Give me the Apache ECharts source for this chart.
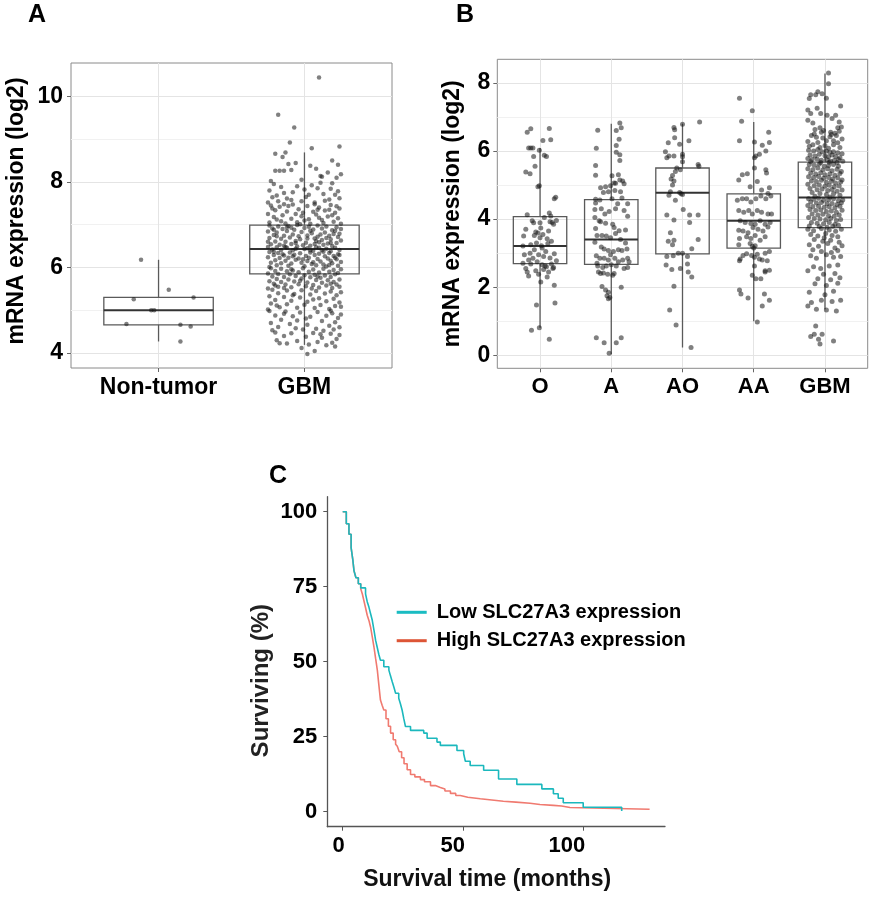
<!DOCTYPE html>
<html>
<head>
<meta charset="utf-8">
<script src="https://cdn.jsdelivr.net/npm/echarts@6/dist/echarts.min.js"></script>
<style>html,body{margin:0;padding:0;background:#fff}#c{width:873px;height:897px}</style>
</head>
<body>
<div id="c"></div>
<script>
// ---------- Panel A ----------
const catsA = ['Non-tumor', 'GBM'];
const boxA = [[4.27, 4.66, 5.00, 5.30, 6.18], [4.19, 5.85, 6.43, 6.99, 8.69]];
const ticksA = [4, 6, 8, 10];
const minorA = [5, 7, 9];
// jittered points: flat [offset, value, offset, value, ...]
const ptsA_non = [-.12,6.18, .07,5.48, -.17,5.26, .24,5.30, -.05,5.00, -.03,5.00, -.22,4.68, .15,4.66, .22,4.62, .15,4.27];
const ptsA_gbm = [
-.18,9.57, .10,10.44, -.07,9.27, -.10,8.92, .05,8.79, .24,8.83, -.20,8.66, -.13,8.69,
.19,8.50, .23,8.40, -.11,8.42, .04,8.38, -.20,8.26, -.17,8.26, -.14,8.26, -.09,8.28, .11,8.14, .12,8.12, -.02,8.05, .22,8.10, -.23,8.02, -.06,8.44, .16,8.22, -.15,8.58, .08,8.31, .25,8.18,
-.21,7.95, -.16,7.88, .05,7.92, .19,7.97, .23,7.78, -.24,7.80, -.08,7.76, .13,7.72, -.19,7.68, .01,7.65, .09,7.85, -.12,7.61, .17,7.59, -.02,7.55, .24,7.62, -.25,7.52, .07,7.52, -.05,7.90, .21,7.70, -.14,7.74, .14,7.56, -.09,7.58, .00,7.82, -.18,7.55, .11,7.98, .03,7.70, -.22,7.64, .18,7.84,
-.23,7.45, -.17,7.42, -.08,7.47, .02,7.44, .10,7.40, .18,7.46, .24,7.38, -.20,7.34, -.12,7.31, -.04,7.36, .06,7.30, .14,7.33, .21,7.28, -.25,7.25, -.15,7.22, -.02,7.20, .08,7.24, .16,7.19, .23,7.15, -.19,7.12, -.09,7.14, .00,7.10, .12,7.11, .20,7.07, -.24,7.05, -.13,7.03, -.05,7.06, .04,7.02, .10,7.16, .25,7.02, -.21,7.18, -.01,7.28, .17,7.35, -.11,7.44, .07,7.48, -.16,7.08, .19,7.22, -.06,7.25, .13,7.04, -.22,7.38, .03,7.13, .22,7.43, -.14,7.48, .09,7.35, -.03,7.01,
-.24,6.98, -.18,6.96, -.11,6.97, -.05,6.99, .03,6.95, .09,6.98, .15,6.96, .22,6.94, -.22,6.91, -.15,6.90, -.07,6.88, .00,6.92, .06,6.89, .12,6.91, .19,6.87, .25,6.90, -.25,6.84, -.19,6.82, -.12,6.85, -.02,6.83, .05,6.80, .14,6.82, .20,6.78, -.21,6.76, -.14,6.74, -.08,6.77, .02,6.75, .09,6.72, .17,6.74, .23,6.71, -.24,6.69, -.16,6.67, -.10,6.70, -.03,6.66, .07,6.68, .12,6.64, .18,6.66, .25,6.63, -.20,6.61, -.13,6.60, -.06,6.62, .01,6.58, .10,6.59, .16,6.56, .22,6.57, -.23,6.54, -.17,6.53, -.09,6.55, -.01,6.52, .04,6.51, .13,6.53, .19,6.50, -.14,6.51, .08,6.62, -.04,6.73, .21,6.86, -.09,6.93, .15,6.69, -.19,6.73, .04,6.86, -.25,6.60, .24,6.79, .11,6.77, -.06,6.57, .18,6.58, -.12,6.94, .02,6.68, -.21,6.88, .07,6.55,
-.25,6.48, -.19,6.47, -.12,6.46, -.05,6.49, .02,6.45, .08,6.47, .15,6.44, .21,6.46, -.22,6.42, -.16,6.41, -.08,6.40, .00,6.43, .06,6.39, .12,6.40, .18,6.38, .24,6.41, -.24,6.36, -.18,6.34, -.10,6.35, -.03,6.33, .04,6.35, .10,6.32, .17,6.34, .23,6.31, -.21,6.29, -.14,6.28, -.07,6.30, .01,6.27, .07,6.29, .14,6.26, .20,6.27, -.25,6.24, -.17,6.22, -.11,6.23, -.04,6.21, .03,6.23, .09,6.20, .16,6.21, .22,6.19, -.20,6.17, -.13,6.16, -.06,6.18, .02,6.15, .11,6.14, .18,6.16, .25,6.13, -.23,6.11, -.16,6.10, -.09,6.09, -.02,6.11, .05,6.08, .13,6.07, .19,6.10, -.19,6.05, -.11,6.04, .00,6.03, .08,6.05, .15,6.02, .23,6.04, -.24,6.01, -.06,6.44, .13,6.37, -.15,6.31, .21,6.23, -.01,6.19, .06,6.12, -.21,6.37, .10,6.46, -.08,6.26, .17,6.06, -.13,6.48, .24,6.29, .04,6.40,
-.23,5.98, -.16,5.97, -.09,5.96, -.01,5.98, .06,5.95, .13,5.97, .20,5.94, .25,5.96, -.20,5.92, -.12,5.91, -.04,5.89, .03,5.90, .10,5.88, .17,5.90, .23,5.87, -.25,5.86, -.18,5.85, -.10,5.84, .00,5.82, .07,5.83, .14,5.81, .21,5.84, -.22,5.79, -.14,5.78, -.06,5.80, .04,5.77, .11,5.76, .18,5.78, -.19,5.73, -.11,5.72, -.02,5.74, .08,5.71, .16,5.70, .24,5.72, -.24,5.68, -.16,5.66, -.07,5.67, .02,5.65, .12,5.64, .20,5.66, -.21,5.62, -.13,5.60, -.04,5.61, .06,5.59, .15,5.58, .22,5.60, -.18,5.55, -.09,5.54, .01,5.56, .10,5.53, .19,5.52, -.25,5.51, -.14,5.52, .05,5.51, .24,5.55, -.08,5.93, .18,5.62, -.03,5.69, .09,5.79, -.20,5.58,
-.22,5.48, -.12,5.46, -.02,5.47, .08,5.45, .18,5.44, .25,5.42, -.18,5.40, -.07,5.38, .04,5.37, .14,5.39, .22,5.35, -.24,5.33, -.14,5.31, -.03,5.30, .10,5.28, .20,5.27, -.20,5.24, -.09,5.22, .02,5.20, .15,5.21, .24,5.18, -.23,5.16, -.12,5.14, .00,5.13, .11,5.12, .21,5.10, -.17,5.07, -.05,5.06, .07,5.05, .17,5.03, -.25,5.02, .25,5.08, -.08,5.35, .06,5.25, -.19,5.11,
-.24,4.98, -.13,4.97, -.03,4.95, .09,4.96, .19,4.93, .25,4.90, -.20,4.88, -.08,4.86, .04,4.85, .15,4.87, .23,4.82, -.16,4.78, -.05,4.76, .12,4.75, .21,4.72, -.23,4.70, -.10,4.68, .02,4.66, .17,4.64, -.18,4.61, -.06,4.58, .08,4.57, .20,4.55, -.22,4.53, .13,4.52, .24,4.60, -.14,4.92, .01,4.81, .18,4.99, -.01,4.55,
-.20,4.48, -.09,4.46, .06,4.47, .18,4.45, .24,4.42, -.14,4.40, .01,4.38, .12,4.36, .22,4.33, -.19,4.30, -.05,4.28, .09,4.26, .19,4.24, -.12,4.22, .03,4.20, .15,4.18, -.17,4.23, .11,4.44, -.02,4.12, .21,4.15, .07,4.05, .02,3.98
];

// ---------- Panel B ----------
const catsB = ['O', 'A', 'AO', 'AA', 'GBM'];
const boxB = [[0.81, 2.69, 3.21, 4.07, 6.09], [0.03, 2.67, 3.40, 4.57, 6.80], [0.23, 2.98, 4.77, 5.50, 6.80], [1.00, 3.15, 3.95, 4.74, 6.85], [1.35, 3.75, 4.63, 5.67, 8.27]];
const ticksB = [0, 2, 4, 6, 8];
const minorB = [1, 3, 5, 7];
const ptsB_O = [
-.18,6.55, -.13,6.65, .13,6.66, .04,6.31, .15,6.33, -.16,6.09, -.13,6.09, -.10,6.09, -.01,6.02, -.09,5.84, .06,5.87, .09,5.84, -.07,5.55, -.20,5.38, -.14,5.33, -.03,4.95, -.01,4.98, .20,4.60, .22,4.64, -.18,4.13, -.09,3.89, .00,3.89, .13,4.18, .15,4.09, .14,3.92, .17,3.90, .23,3.96, .19,3.85, .01,3.74, -.03,3.59, -.23,3.50, -.08,3.52, .04,3.55, .10,3.42, -.13,3.25, -.05,3.30, .02,3.22, .11,3.28, -.24,3.21, -.22,2.95, -.14,3.00, -.10,2.85, -.02,2.95, .05,2.90, .14,2.86, .20,2.98, -.24,2.70, -.13,2.68, .03,2.66, .07,2.62, .16,2.68, .19,2.58, -.18,2.45, -.16,2.33, -.06,2.48, -.02,2.38, .05,2.52, .09,2.60, .18,2.55, .01,2.15, .20,2.06, -.05,1.48, .21,1.54, -.12,0.74, -.01,0.81, .13,0.47,
-.20,3.70, -.08,3.10, .08,3.05, -.16,2.80, .12,3.65, .00,3.45, -.11,3.95, .06,4.05, -.04,2.75, .10,2.30, -.20,2.55, .16,3.35, .23,2.78, -.06,3.62, .03,3.15, .12,2.45
];
const ptsB_A = [
-.19,6.61, .12,6.82, .14,6.68, .07,6.60, .11,6.34, -.21,6.08, .07,6.16, .07,5.96, .12,5.89, .12,5.72, -.22,5.57, -.22,5.29, .10,5.30, .12,5.15, .16,5.12, .01,5.27, .04,5.06, -.08,4.95, -.15,4.92, -.01,4.98, .06,5.05, .18,5.04, -.11,4.78, -.04,4.80, .05,4.84, .13,4.80, -.22,4.58, -.16,4.56, -.22,4.47, .01,4.60, .15,4.62, .23,4.45, -.14,4.30, -.03,4.22, .06,4.30, .18,4.25, .23,4.08, -.23,4.28, -.23,4.05, -.15,3.92, -.08,3.88, .04,3.75, .11,3.66, .20,3.68, -.22,3.72, -.20,3.52, -.13,3.52, -.07,3.50, -.01,3.45, .06,3.58, -.23,3.32, -.14,3.18, -.10,3.12, -.04,3.08, .03,3.05, .10,3.10, .15,3.08, .22,3.12, -.21,2.92, -.16,2.85, -.10,2.85, -.04,2.80, .05,2.85, .10,2.75, .16,2.80, .23,2.85, .25,2.75, -.19,2.62, -.12,2.58, -.07,2.62, .00,2.66, .07,2.62, .18,2.55, .23,2.58, -.18,2.45, -.15,2.40, -.11,2.42, -.05,2.38, .02,2.35, .04,2.40, -.13,2.02, -.08,1.92, -.04,1.85, -.06,1.75, -.04,1.66, -.02,1.70, .14,2.00, -.21,0.52, -.10,0.37, .07,0.37, .14,0.52, -.03,0.06,
-.17,3.95, .09,4.45, -.09,4.15, .13,3.40, -.20,2.70, .02,3.85, .20,3.30, -.01,2.95
];
const ptsB_AO = [
.24,6.85, .00,6.78, -.12,6.69, -.11,6.62, .09,6.30, -.20,6.24, -.11,6.39, -.04,6.20, -.24,5.98, -.19,5.85, -.12,5.85, -.22,5.80, .00,5.90, .00,5.83, .00,5.68, .22,5.60, .23,5.55, -.08,5.50, -.03,5.45, -.10,5.40, -.14,5.28, -.16,5.18, -.12,5.12, -.14,5.00, -.04,4.78, -.02,4.74, .00,4.72, -.17,4.80, -.19,4.70, -.10,4.55, .01,4.28, .10,4.12, .22,4.12, -.22,4.12, -.12,3.97, .10,3.90, -.17,3.60, -.20,3.35, -.14,3.25, -.12,3.38, .22,3.40, .13,3.13, -.22,2.90, -.13,2.92, -.23,2.65, -.15,2.52, -.03,2.55, .07,2.90, .07,2.68, .08,2.45, .13,2.30, -.06,3.00, .00,3.00, -.12,2.03, -.18,1.33, -.09,0.89, .12,0.23
];
const ptsB_AA = [
-.20,7.55, -.02,7.18, -.17,6.87, -.20,6.30, .01,6.26, .21,6.55, .22,6.25, .12,6.17, .17,6.00, .03,5.85, .01,5.80, .08,5.90, .17,5.45, .18,5.35, .01,5.50, -.21,5.15, -.16,5.30, -.09,5.33, -.05,4.95, .05,5.10, .11,4.85, .22,4.92, .20,4.75, -.23,4.55, -.16,4.60, -.10,4.60, -.04,4.50, .03,4.60, .10,4.68, .17,4.60, .24,4.68, -.21,4.25, -.14,4.20, -.07,4.25, -.02,4.15, .05,4.25, .11,4.20, .20,4.15, .25,4.15, -.19,3.95, -.12,3.90, -.04,3.87, .02,3.85, .09,3.95, .16,3.85, .23,3.90, -.21,3.67, -.15,3.65, -.08,3.60, -.01,3.75, .06,3.70, .13,3.65, .20,3.77, -.20,3.43, -.10,3.48, -.04,3.43, .02,3.52, .09,3.38, .16,3.48, -.21,3.25, -.05,3.28, .02,3.22, .00,3.15, -.02,3.20, .16,3.00, .22,3.05, -.19,2.83, -.15,2.93, -.10,2.98, -.03,2.93, .01,2.88, .05,2.97, .08,2.83, .12,2.80, .19,2.78, -.20,2.78, .01,2.62, .16,2.48, .22,2.50, -.02,2.35, .03,2.25, .10,2.25, .16,2.45, -.20,1.92, -.18,1.80, -.08,1.68, .12,1.45, .15,1.80, .22,1.62, .05,0.98
];
const ptsB_GBM = [
.05,8.29, .05,7.97, -.20,7.65, -.13,7.65, -.04,7.68, -.22,7.54, .02,7.55, -.10,7.74,
-.24,7.20, -.20,7.10, -.06,7.10, .03,7.05, .15,7.05, -.24,6.90, -.17,6.82, .20,6.85, .23,6.70, -.14,6.63, -.07,6.68, -.02,6.60, .08,6.55, .14,6.52, .18,6.68, .10,6.95, -.11,7.25, .22,7.32,
-.22,6.14, -.17,6.18, -.07,6.10, .00,6.16, .05,6.08, .12,6.30, .12,6.18, .21,6.10, -.19,6.45, -.12,6.40, -.03,6.38, .07,6.42, .16,6.45, .24,6.35, -.24,6.28, -.10,6.25, .02,6.30, .18,6.24, -.15,6.50, .09,6.48, -.05,6.55, .20,6.58,
-.23,6.02, -.16,6.00, -.10,6.04, -.04,5.98, .02,6.00, .07,5.96, .12,5.98, .18,5.95, .24,5.92, -.21,5.88, -.14,5.85, -.08,5.90, .00,5.86, .05,5.83, .10,5.88, .15,5.84, .21,5.80, -.24,5.78, -.18,5.75, -.11,5.76, -.05,5.73, .03,5.74, .08,5.70, .13,5.72, .19,5.75, .25,5.70, -.20,5.68, -.06,5.66, .06,5.67, .17,5.66,
-.22,5.60, -.15,5.58, -.08,5.62, -.01,5.55, .05,5.57, .12,5.60, .19,5.55, -.24,5.48, -.17,5.45, -.10,5.50, -.03,5.44, .04,5.48, .10,5.42, .17,5.46, .23,5.40, -.20,5.35, -.13,5.32, -.06,5.36, .00,5.30, .07,5.33, .14,5.29, .21,5.34, -.23,5.24, -.16,5.22, -.09,5.25, -.02,5.20, .05,5.22, .11,5.18, .18,5.21, .24,5.15, -.19,5.12, -.12,5.10, -.05,5.14, .02,5.08, .09,5.11, .15,5.06, .22,5.09, -.24,5.02, -.15,4.98, -.08,5.00, .00,4.96, .06,4.99, .13,4.95, .20,4.97, -.21,4.90, -.11,4.86, -.04,4.88, .04,4.84, .10,4.87, .17,4.82, .24,4.85, -.18,4.78, -.07,4.75, .02,4.72, .12,4.74, .21,4.70, -.14,4.67, .07,4.65,
-.23,4.60, -.16,4.58, -.09,4.61, -.02,4.55, .05,4.57, .12,4.60, .19,4.54, .25,4.56, -.20,4.50, -.12,4.47, -.05,4.49, .03,4.45, .10,4.46, .17,4.43, .23,4.48, -.24,4.40, -.17,4.37, -.09,4.38, -.01,4.35, .06,4.36, .14,4.33, .21,4.38, -.21,4.28, -.13,4.25, -.06,4.27, .02,4.22, .09,4.24, .16,4.20, .24,4.26, -.18,4.15, -.10,4.12, -.03,4.14, .05,4.10, .13,4.08, .20,4.12, -.23,4.05, -.15,4.02, -.07,4.00, .01,3.98, .08,4.02, .16,3.96, .22,3.99, -.19,3.90, -.11,3.88, -.02,3.86, .06,3.90, .14,3.84, -.22,3.80, -.08,3.78, .03,3.76, .11,3.79, .19,3.82,
-.24,3.70, -.16,3.66, -.05,3.72, .06,3.68, .15,3.64, .23,3.70, -.20,3.55, -.10,3.50, .01,3.58, .10,3.52, .18,3.48, -.15,3.40, -.03,3.35, .08,3.38, .20,3.32, -.22,3.25, -.09,3.20, .04,3.28, .14,3.15, .24,3.22, -.17,3.10, -.05,3.05, .09,3.02, .18,3.08, -.01,3.45,
-.20,2.92, -.12,2.85, .02,2.95, .12,2.88, .22,2.90, -.16,2.60, -.06,2.55, .06,2.62, .18,2.65, -.24,2.48, -.02,2.38, .14,2.40, -.10,2.25, .08,2.22, .21,2.28,
-.14,2.10, .02,2.05, .18,2.12, -.22,1.85, .00,1.78, .12,1.88, -.19,1.55, -.05,1.62, .10,1.58, .22,1.62, -.24,1.45, -.12,1.35, .02,1.33, .16,1.30,
-.13,0.86, -.15,0.62, -.09,0.47, -.07,0.33, -.04,0.62, .12,0.42, -.20,0.55
];

// ---------- Panel C (Kaplan-Meier) ----------
const seriesNamesC = ['Low SLC27A3 expression', 'High SLC27A3 expression'];
const ticksCx = [0, 50, 100];
const ticksCy = [0, 25, 50, 75, 100];
const lowTime = [0,1.5,2.6,3.5,4.2,4.7,5.5,6.5,7.5,9.5,10.2,10.9,11.6,12.3,13,13.7,14.3,15,15.7,17.1,19.2,19.9,20.6,21.3,22,23.3,24,24.7,25.4,26.1,28.2,33.7,35.1,39.2,40.6,47.5,50.3,51,53,58.6,64.8,72.4,82.8,87.6,89.6,91.7,100,116];
const lowSurv = [100,96,92.5,88,84,80.3,78,76,74.6,72.6,70,68.2,66,63.8,60.5,57.1,55,52.5,50.5,48.3,47.2,45.2,43.3,41.5,39.5,37.8,36,33.9,31,28.4,27.1,26.2,24.5,23.2,22.1,20.4,19.3,16.8,15.4,13.8,10.9,9.1,7.6,6.0,4.5,3.0,1.5,0.2];
const highTime = [0,1.5,2.6,3.5,4.2,4.7,5.5,6.5,7.5,8.2,8.8,9.5,10.2,11,11.6,12.3,13,13.7,14.4,15,15.7,16.4,17.1,18,19,19.9,21,22,22.7,23.5,24.5,25.5,26.8,28.2,30,32.3,34,36.5,38.5,40.6,42.5,44.8,47,48.9,52,57.2,62,66.8,72,77.9,82,87.6,91,94.5,127.6];
const highSurv = [100,96,92.5,88,84,80.3,78,76,74.3,72.5,70.4,68,65.5,63.5,61.5,58.3,54.9,51,47.2,42.5,37.2,35.5,33.9,31,28.5,26.2,24,22.5,21.8,20,18,16,14,12.4,11.6,10.7,10,8.7,8.1,7.6,6.9,6.1,5.4,4.8,4.3,3.9,3.5,3.2,2.8,2.4,2.1,1.9,1.4,0.8,0.8];

// ---------- helpers ----------
const FONT = 'Liberation Sans, Arial, sans-serif';
function jitter(flat, center) {
  const out = [];
  for (let i = 0; i < flat.length; i += 2) out.push([center + flat[i], flat[i + 1]]);
  return out;
}
function boxData(stats) { return stats.map((s, i) => [i + 1].concat(s)); }
function zip(a, b) { return a.map((v, i) => [v, b[i]]); }
function renderBox(params, api) {
  const x = api.value(0);
  const pLo = api.coord([x, api.value(1)]);
  const pQ1 = api.coord([x, api.value(2)]);
  const pMed = api.coord([x, api.value(3)]);
  const pQ3 = api.coord([x, api.value(4)]);
  const pHi = api.coord([x, api.value(5)]);
  const hw = api.size([0.375, 0])[0];
  const st = { stroke: '#5a5a5a', lineWidth: 1.3, fill: null };
  return {
    type: 'group',
    children: [
      { type: 'line', shape: { x1: pHi[0], y1: pHi[1], x2: pQ3[0], y2: pQ3[1] }, style: st },
      { type: 'line', shape: { x1: pQ1[0], y1: pQ1[1], x2: pLo[0], y2: pLo[1] }, style: st },
      { type: 'rect', shape: { x: pQ3[0] - hw, y: pQ3[1], width: 2 * hw, height: pQ1[1] - pQ3[1] }, style: st },
      { type: 'line', shape: { x1: pMed[0] - hw, y1: pMed[1], x2: pMed[0] + hw, y2: pMed[1] }, style: { stroke: '#333', lineWidth: 2 } }
    ]
  };
}
function gridLines(major, minor, cats) {
  const d = [];
  major.forEach(v => d.push({ yAxis: v, lineStyle: { color: '#e4e4e4', width: 1, type: 'solid' } }));
  minor.forEach(v => d.push({ yAxis: v, lineStyle: { color: '#f1f1f1', width: 1, type: 'solid' } }));
  cats.forEach((c, i) => d.push({ xAxis: i + 1, lineStyle: { color: '#e4e4e4', width: 1, type: 'solid' } }));
  return { silent: true, symbol: 'none', label: { show: false }, data: d };
}
const tickLabel = (size) => ({ fontFamily: FONT, fontWeight: 'bold', fontSize: size, color: '#000' });

const chart = echarts.init(document.getElementById('c'), null, { renderer: 'canvas' });
const ptStyle = { color: 'rgba(20,20,20,0.68)' };

const option = {
  animation: false,
  backgroundColor: '#fff',
  textStyle: { fontFamily: FONT },
  grid: [
    { left: 71, top: 63, width: 321, height: 305, show: true, borderColor: '#8a8a8a', borderWidth: 1, backgroundColor: 'transparent' },
    { left: 497.3, top: 59.3, width: 370.4, height: 309, show: true, borderColor: '#8a8a8a', borderWidth: 1, backgroundColor: 'transparent' },
    { left: 327.3, top: 496.7, width: 337.7, height: 330, show: false }
  ],
  xAxis: [
    { gridIndex: 0, type: 'value', min: 0.4, max: 2.6,
      axisLine: { show: false, onZero: false }, splitLine: { show: false },
      axisTick: { show: true, customValues: [1, 2], length: 4, lineStyle: { color: '#666' } },
      axisLabel: Object.assign({ customValues: [1, 2], margin: 8, formatter: v => catsA[Math.round(v) - 1] }, tickLabel(23)) },
    { gridIndex: 1, type: 'value', min: 0.4, max: 5.6,
      axisLine: { show: false, onZero: false }, splitLine: { show: false },
      axisTick: { show: true, customValues: [1, 2, 3, 4, 5], length: 4, lineStyle: { color: '#666' } },
      axisLabel: Object.assign({ customValues: [1, 2, 3, 4, 5], margin: 8, formatter: v => catsB[Math.round(v) - 1] }, tickLabel(22)) },
    { gridIndex: 2, type: 'value', min: -6.4, max: 134,
      axisLine: { show: true, onZero: false, lineStyle: { color: '#555', width: 1.3 } }, splitLine: { show: false },
      axisTick: { show: true, customValues: ticksCx, length: 4, lineStyle: { color: '#555' } },
      axisLabel: Object.assign({ customValues: ticksCx, margin: 8, align: 'right', padding: [0, -2, 0, 0] }, tickLabel(22)),
      name: 'Survival time (months)', nameLocation: 'middle', nameGap: 41,
      nameTextStyle: { fontFamily: FONT, fontWeight: 'bold', fontSize: 23, color: '#111', padding: [0, 18, 0, 0] } }
  ],
  yAxis: [
    { gridIndex: 0, type: 'value', min: 3.65, max: 10.78,
      axisLine: { show: false, onZero: false }, splitLine: { show: false },
      axisTick: { show: true, customValues: ticksA, length: 4, lineStyle: { color: '#666' } },
      axisLabel: Object.assign({ customValues: ticksA, margin: 8 }, tickLabel(23)),
      name: 'mRNA expression (log2)', nameLocation: 'middle', nameGap: 43,
      nameTextStyle: { fontFamily: FONT, fontWeight: 'bold', fontSize: 23, color: '#000', padding: [0, 0, 0, 9] } },
    { gridIndex: 1, type: 'value', min: -0.38, max: 8.69,
      axisLine: { show: false, onZero: false }, splitLine: { show: false },
      axisTick: { show: true, customValues: ticksB, length: 4, lineStyle: { color: '#666' } },
      axisLabel: Object.assign({ customValues: ticksB, margin: 7 }, tickLabel(23)),
      name: 'mRNA expression (log2)', nameLocation: 'middle', nameGap: 33,
      nameTextStyle: { fontFamily: FONT, fontWeight: 'bold', fontSize: 23, color: '#000' } },
    { gridIndex: 2, type: 'value', min: -5, max: 105,
      axisLine: { show: true, onZero: false, lineStyle: { color: '#555', width: 1.3 } }, splitLine: { show: false },
      axisTick: { show: true, customValues: ticksCy, length: 4, lineStyle: { color: '#555' } },
      axisLabel: Object.assign({ customValues: ticksCy, margin: 10 }, tickLabel(22)),
      name: 'Surviving (%)', nameLocation: 'middle', nameGap: 54,
      nameTextStyle: { fontFamily: FONT, fontWeight: 'bold', fontSize: 24, color: '#222', padding: [0, 38, 0, 0] } }
  ],
  legend: {
    left: 396.7, top: 601.3, orient: 'vertical', padding: 0, itemGap: 6.4,
    icon: 'rect', itemWidth: 30, itemHeight: 3,
    textStyle: { fontFamily: FONT, fontWeight: 'bold', fontSize: 20, color: '#000', lineHeight: 22, padding: [0, 0, 0, 5] },
    data: [
      { name: seriesNamesC[0], itemStyle: { color: '#1ABCC2' } },
      { name: seriesNamesC[1], itemStyle: { color: '#DD5536' } }
    ]
  },
  graphic: [
    { type: 'text', left: 28, top: 3, style: { text: 'A', font: 'bold 25px ' + FONT, fill: '#000' } },
    { type: 'text', left: 456, top: 3, style: { text: 'B', font: 'bold 25px ' + FONT, fill: '#000' } },
    { type: 'text', left: 269, top: 464, style: { text: 'C', font: 'bold 25px ' + FONT, fill: '#000' } }
  ],
  series: [
    // gridlines (behind)
    { type: 'line', xAxisIndex: 0, yAxisIndex: 0, data: [], z: 0, markLine: gridLines(ticksA, minorA, catsA) },
    { type: 'line', xAxisIndex: 1, yAxisIndex: 1, data: [], z: 0, markLine: gridLines(ticksB, minorB, catsB) },
    // boxes
    { type: 'custom', xAxisIndex: 0, yAxisIndex: 0, renderItem: renderBox, data: boxData(boxA), encode: { x: 0, y: [1, 2, 3, 4, 5] }, z: 10, silent: true },
    { type: 'custom', xAxisIndex: 1, yAxisIndex: 1, renderItem: renderBox, data: boxData(boxB), encode: { x: 0, y: [1, 2, 3, 4, 5] }, z: 10, silent: true },
    // points A
    { type: 'scatter', xAxisIndex: 0, yAxisIndex: 0, symbolSize: 4.5, itemStyle: ptStyle, z: 11, data: jitter(ptsA_non, 1).concat(jitter(ptsA_gbm, 2)) },
    // points B
    { type: 'scatter', xAxisIndex: 1, yAxisIndex: 1, symbolSize: 5, itemStyle: ptStyle, z: 11,
      data: jitter(ptsB_O, 1).concat(jitter(ptsB_A, 2), jitter(ptsB_AO, 3), jitter(ptsB_AA, 4), jitter(ptsB_GBM, 5)) },
    // KM curves
    { name: seriesNamesC[1], type: 'line', xAxisIndex: 2, yAxisIndex: 2, step: 'end', showSymbol: false, symbol: 'none',
      lineStyle: { color: '#F07A70', width: 1.6 }, itemStyle: { color: '#F07A70' }, data: zip(highTime, highSurv), z: 3 },
    { name: seriesNamesC[0], type: 'line', xAxisIndex: 2, yAxisIndex: 2, step: 'end', showSymbol: false, symbol: 'none',
      lineStyle: { color: '#1BB8BD', width: 1.6 }, itemStyle: { color: '#1BB8BD' }, data: zip(lowTime, lowSurv), z: 4 }
  ]
};
chart.setOption(option);
</script>
</body>
</html>
